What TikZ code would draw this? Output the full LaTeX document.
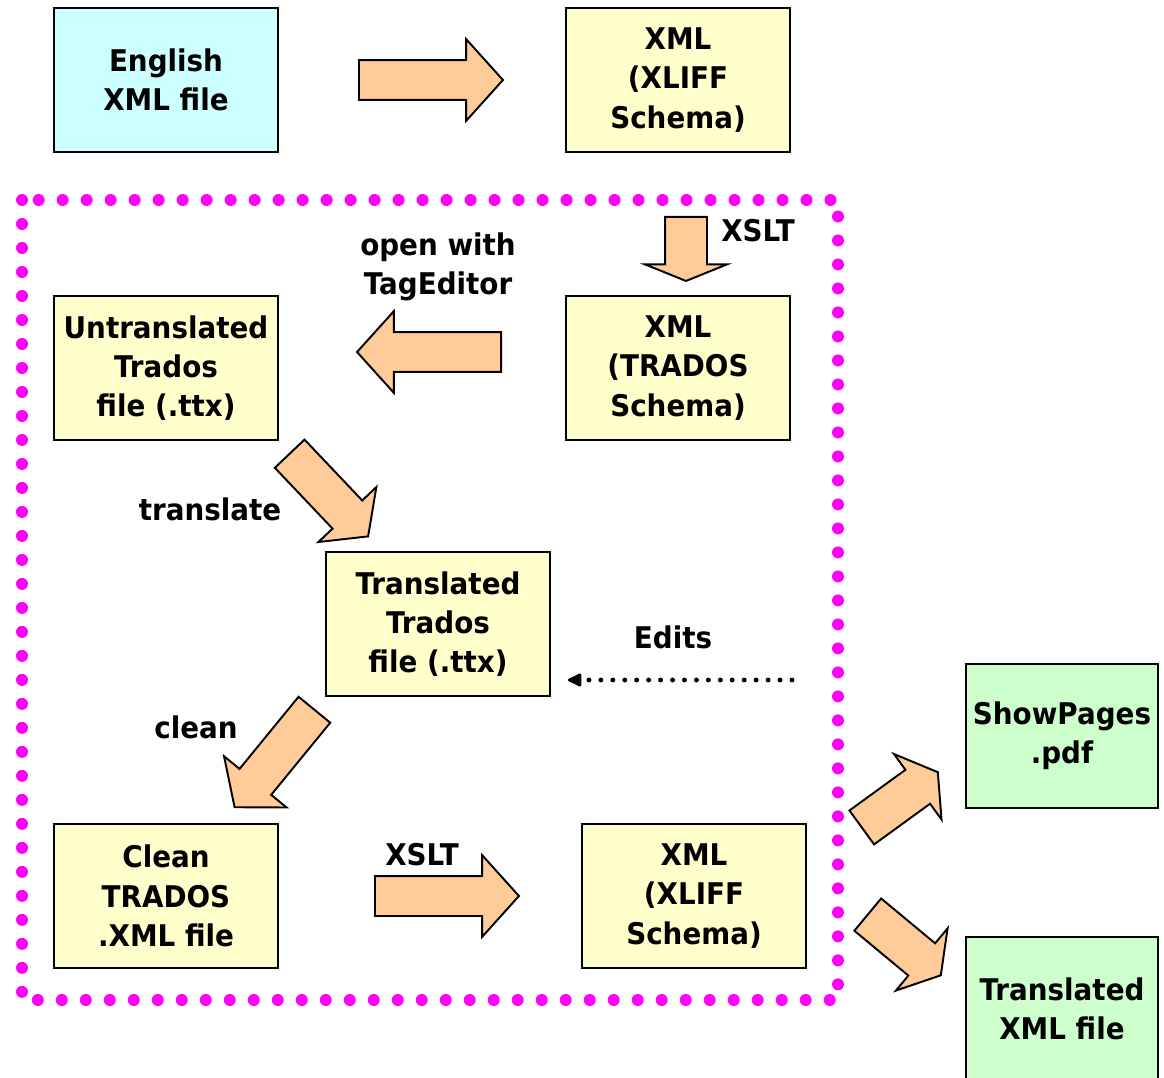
\documentclass[tikz,border=0pt]{standalone}
\usepackage{fontspec}
\setmainfont[FakeStretch=0.93]{DejaVu Sans}
\usetikzlibrary{shapes.arrows,arrows.meta}

\definecolor{boxcyan}{HTML}{CCFFFF}
\definecolor{boxyellow}{HTML}{FFFFCC}
\definecolor{boxgreen}{HTML}{CCFFCC}
\definecolor{peach}{HTML}{FFCC99}
\definecolor{dotpink}{HTML}{FF00FF}

\begin{document}
\begin{tikzpicture}[x=0.02cm, y=-0.02cm,
    every node/.style={font=\fontsize{17}{22.4}\selectfont\bfseries},
    filebox/.style={draw, line width=1.1pt, minimum width=4.48cm, minimum height=2.88cm,
        align=center, inner sep=0pt},
    blockarrow/.style={single arrow, draw, fill=peach, line width=1.1pt, anchor=tail,
        inner xsep=0pt, inner ysep=0.38cm,
        minimum height=2.88cm, minimum width=1.6cm,
        single arrow head extend=0.42cm, single arrow tip angle=96},
    lbl/.style={align=center, inner sep=0pt}]
    \useasboundingbox (0,0) rectangle (1164,1078);

    % Dotted frame round the Trados steps
    \draw[dotpink, line width=0.24cm, line cap=round, dash pattern=on 0pt off 0.48cm]
        (22,200) rectangle (838,1000);

    % Draw the file boxes
    \node[filebox, fill=boxcyan] (eng) at (166,80) {English\\XML file};
    \node[filebox, fill=boxyellow] (xliffin) at (678,80) {XML\\(XLIFF\\Schema)};
    \node[filebox, fill=boxyellow] (trados) at (678,368) {XML\\(TRADOS\\Schema)};
    \node[filebox, fill=boxyellow] (untrans) at (166,368) {Untranslated\\Trados\\file (.ttx)};
    \node[filebox, fill=boxyellow] (transl) at (438,624) {Translated\\Trados\\file (.ttx)};
    \node[filebox, fill=boxyellow] (cleanxml) at (166,896) {Clean\\TRADOS\\.XML file};
    \node[filebox, fill=boxyellow] (xliffout) at (694,896) {XML\\(XLIFF\\Schema)};
    \node[filebox, fill=boxgreen, minimum width=3.84cm] (pdf) at (1062,736) {ShowPages\\.pdf};
    \node[filebox, fill=boxgreen, minimum width=3.84cm] (trxml) at (1062,1009) {Translated\\XML file};

    % Draw the block arrows (placed by the middle of the tail)
    \node[blockarrow] (toxliff) at (358,80) {};
    \node[blockarrow, rotate=-90, minimum height=1.28cm, inner ysep=0.4cm,
        single arrow head extend=0.4cm, single arrow tip angle=136] (xsltdown) at (686,216) {};
    \node[blockarrow, rotate=180] (opentag) at (502,352) {};
    \node[blockarrow, rotate=-46.5, minimum height=2.28cm, minimum width=1.56cm, inner ysep=0.39cm,
        single arrow head extend=0.39cm, single arrow tip angle=106] (translarr) at (289,453) {};
    \node[blockarrow, rotate=-129.3, minimum height=2.52cm, minimum width=1.58cm, inner ysep=0.39cm,
        single arrow head extend=0.4cm, single arrow tip angle=102] (cleanarr) at (315,709) {};
    \node[blockarrow] (xsltright) at (374,896) {};
    \node[blockarrow, rotate=36, minimum height=1.88cm, minimum width=1.58cm, inner ysep=0.4cm,
        single arrow head extend=0.39cm, single arrow tip angle=117] (topdf) at (861,828) {};
    \node[blockarrow, rotate=-39.7, minimum height=1.9cm, minimum width=1.58cm, inner ysep=0.4cm,
        single arrow head extend=0.39cm, single arrow tip angle=117] (totrxml) at (867,914) {};

    % Labels
    \node[lbl] (xsltlbla) at (758,231) {XSLT};
    \node[lbl] (openlbl) at (438,267) {open with\\TagEditor};
    \node[lbl] (transllbl) at (210,509) {translate};
    \node[lbl] (editslbl) at (673,637) {Edits};
    \node[lbl] (cleanlbl) at (196,727) {clean};
    \node[lbl] (xsltlblb) at (422,855) {XSLT};

    % Dotted edits arrow
    \coordinate (editsfrom) at (792,680);
    \draw[line width=2.8pt, line cap=round, dash pattern=on 0pt off 6.8pt,
        -{Latex[length=10pt, width=9.5pt, round=false]}, shorten >=0.34cm]
        (editsfrom) -- (transl.east |- editsfrom);
\end{tikzpicture}
\end{document}
